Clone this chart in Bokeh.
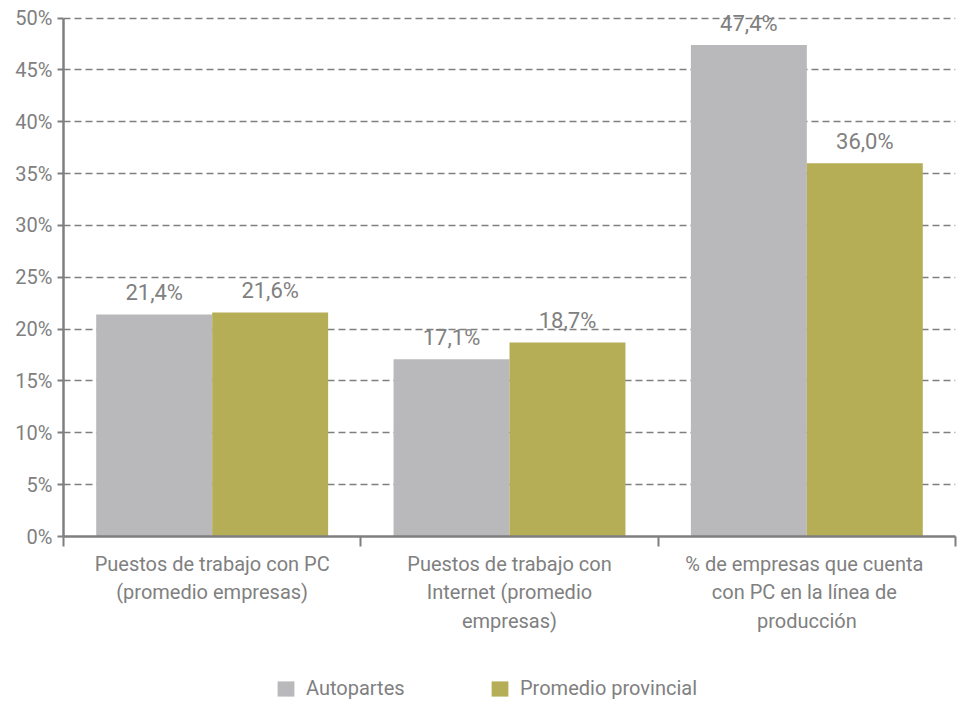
from bokeh.plotting import figure
from bokeh.layouts import column
from bokeh.models import ColumnDataSource, Range1d, FixedTicker, Legend, LegendItem
from bokeh.transform import dodge
from bokeh.core.properties import value
from bokeh.embed import file_html
from bokeh.resources import INLINE

categories = [
    "Puestos de trabajo con PC\n(promedio empresas)",
    "Puestos de trabajo con\nInternet (promedio\nempresas)",
    "% de empresas  que cuenta\ncon  PC en la línea de\nproducción",
]
autopartes = [21.4, 17.1, 47.4]
promedio = [21.6, 18.7, 36.0]
series_names = ["Autopartes", "Promedio provincial"]
y_ticks = [0, 5, 10, 15, 20, 25, 30, 35, 40, 45, 50]

colors = ["#B9B9BB", "#B6AE57"]
FONT = "Roboto"
TEXT = "#808080"
AXIS = "#7f7f7f"


def fmt(v):
    return f"{v:.1f}%".replace(".", ",")


centers = [i + 0.5 for i in range(len(categories))]
boundaries = [i for i in range(len(categories) + 1)]
src = ColumnDataSource(dict(
    x=centers,
    a=autopartes,
    b=promedio,
    la=[fmt(v) for v in autopartes],
    lb=[fmt(v) for v in promedio],
))

y_top = y_ticks[-1]
p = figure(width=958, height=650, x_range=Range1d(0, len(categories)), y_range=Range1d(0, y_top + 1.5),
           output_backend="svg", toolbar_location=None,
           min_border_left=63, min_border_right=3, min_border_top=2, min_border_bottom=114)
p.outline_line_color = None
p.background_fill_color = "white"

off = 0.195
bw = 0.39
r1 = p.vbar(x=dodge("x", -off), top="a", width=bw, source=src, fill_color=colors[0], line_color=None)
r2 = p.vbar(x=dodge("x", off), top="b", width=bw, source=src, fill_color=colors[1], line_color=None)

for col, lab, d in (("a", "la", -off), ("b", "lb", off)):
    p.text(x=dodge("x", d), y=col, text=lab, source=src, text_align="center",
           text_baseline="alphabetic", y_offset=-22, text_font=value(FONT),
           text_font_size="22px", text_color=TEXT)

# x axis
p.xaxis.ticker = FixedTicker(ticks=centers, minor_ticks=boundaries)
p.xaxis.major_label_overrides = {c: lab for c, lab in zip(centers, categories)}
p.xaxis.major_tick_out = 0
p.xaxis.major_tick_in = 0
p.xaxis.minor_tick_out = 10
p.xaxis.minor_tick_in = 0
p.xaxis.minor_tick_line_width = 2
p.xaxis.minor_tick_line_color = AXIS
p.xaxis.axis_line_width = 2.5
p.xaxis.axis_line_color = AXIS
p.xaxis.major_label_standoff = 5
p.xaxis.major_label_text_font = FONT
p.xaxis.major_label_text_font_size = "20px"
p.xaxis.major_label_text_line_height = 1.2
p.xaxis.major_label_text_color = TEXT

# y axis
p.yaxis.ticker = FixedTicker(ticks=y_ticks)
p.yaxis.bounds = (0, y_top)
p.yaxis.major_label_overrides = {t: f"{t}%" for t in y_ticks}
p.yaxis.major_tick_out = 6
p.yaxis.major_tick_in = 0
p.yaxis.minor_tick_out = 0
p.yaxis.minor_tick_in = 0
p.yaxis.major_tick_line_width = 2
p.yaxis.major_tick_line_color = AXIS
p.yaxis.axis_line_width = 2.5
p.yaxis.axis_line_color = AXIS
p.yaxis.major_label_standoff = 5
p.yaxis.major_label_text_font = FONT
p.yaxis.major_label_text_font_size = "20px"
p.yaxis.major_label_text_color = TEXT

p.xgrid.grid_line_color = None
p.ygrid.grid_line_color = AXIS
p.ygrid.grid_line_dash = "7 4"
p.ygrid.grid_line_width = 1.3

# legend strip below the chart (frame aligned with the chart frame)
lf = figure(width=958, height=57, x_range=Range1d(0, 1), y_range=Range1d(0, 1),
            x_axis_type=None, y_axis_type=None, output_backend="svg", toolbar_location=None,
            min_border=0)
lf.outline_line_color = None
swatches = [lf.vbar(x="x", top=col, width=bw, source=src, fill_color=c, line_color=None, visible=False)
            for c, col in zip(colors, ("a", "b"))]
for name, rend, xloc in zip(series_names, swatches, (212, 426)):
    lg = Legend(items=[LegendItem(label=name, renderers=[rend])],
                orientation="horizontal", location=(xloc, 7),
                label_text_font=FONT, label_text_font_size="20px", label_text_color=TEXT,
                glyph_width=21, glyph_height=19, label_standoff=10,
                border_line_color=None, background_fill_alpha=0, margin=0, padding=0)
    lf.add_layout(lg, "center")

open("out.html", "w").write(file_html(column(p, lf), INLINE))
